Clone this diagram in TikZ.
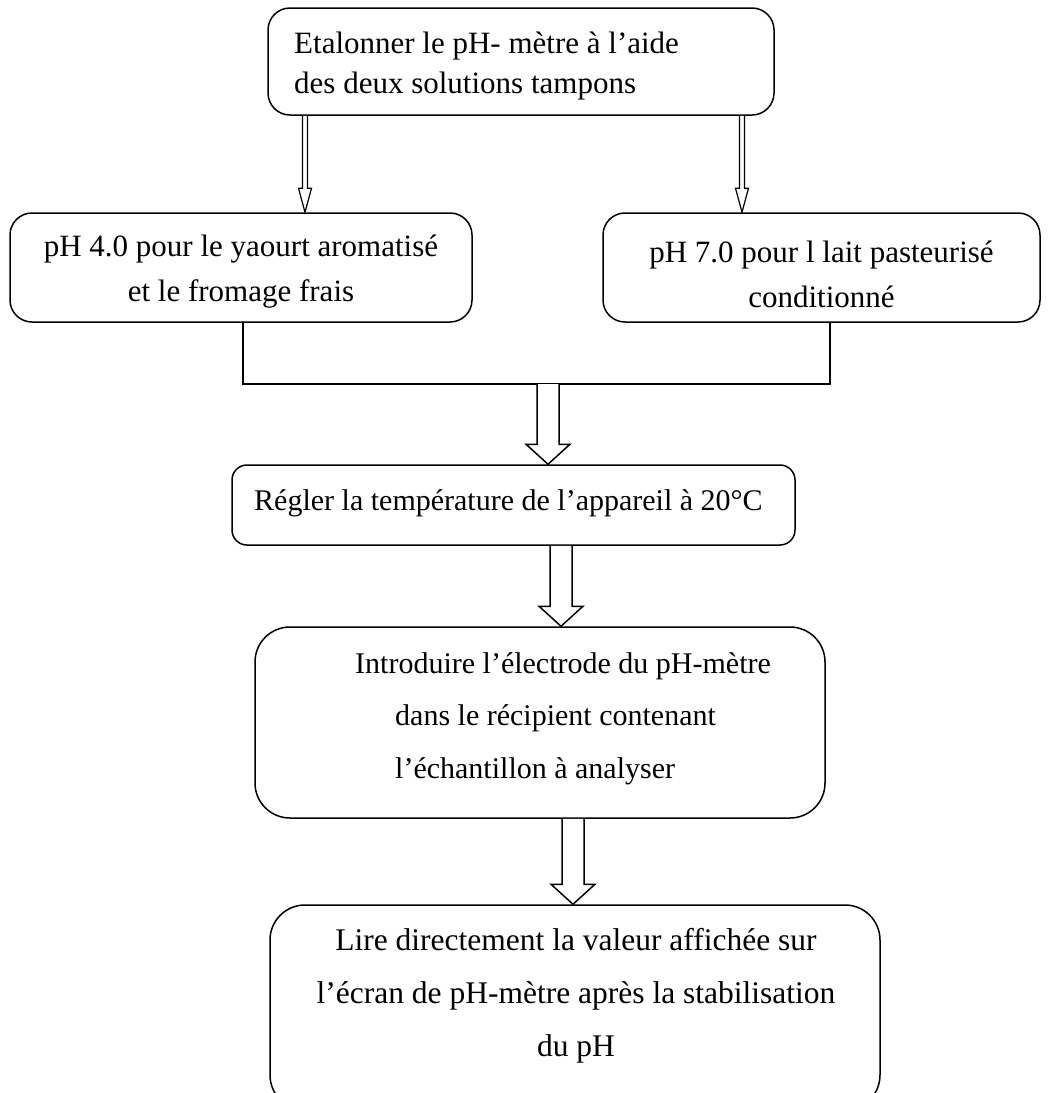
\documentclass[tikz,border=0pt]{standalone}
\usepackage{fontspec}
\setmainfont{Liberation Serif}
\usetikzlibrary{calc}

% hollow downward arrow: start, end, half shaft width, half head width, head length
\newcommand\openarrow[6][]{%
  \draw[link,fill=white,#1] let \p1=(#2), \p2=(#3) in
    ({\x1-#4},{\y1}) -- ({\x1-#4},{\y2+#6}) -- ({\x1-#5},{\y2+#6})
    -- ({\x1},{\y2}) -- ({\x1+#5},{\y2+#6}) -- ({\x1+#4},{\y2+#6})
    -- ({\x1+#4},{\y1});}

\begin{document}
\begin{tikzpicture}[x=1pt,y=-1pt,
  box/.style={draw,line width=1.5pt,rounded corners=#1,inner sep=0pt},
  box/.default=22pt,
  link/.style={line width=1.5pt,line join=miter},
  thinlink/.style={line width=1.2pt,line join=miter},
  txt/.style={inner sep=0pt,align=center,font=\fontsize{31}{45}\selectfont},
  txtwide/.style={inner sep=0pt,align=center,font=\fontsize{31.5}{53}\selectfont}]

\useasboundingbox (0,0) rectangle (1051,1093);

% boxes
\node[box,minimum width=506pt,minimum height=107pt] (calib) at (521,61.5) {};
\node[box,minimum width=462pt,minimum height=109pt] (phfour) at (241,267.5) {};
\node[box,minimum width=437pt,minimum height=109pt] (phseven) at (821.5,267.5) {};
\node[box=15pt,minimum width=563pt,minimum height=80pt] (regler) at (513.5,505) {};
\node[box=35pt,minimum width=570pt,minimum height=191pt] (intro) at (540,722.5) {};
\node[box=35pt,minimum width=610pt,minimum height=205pt] (lire) at (575,1007.5) {};

% texts
\node[inner sep=0pt,align=left,anchor=west,font=\fontsize{31}{40}\selectfont] (calibtext) at (294,66)
  {Etalonner le pH- mètre à l’aide\\des deux solutions tampons};
\node[txt] (phfourtext) at (241,272) {pH 4.0 pour le yaourt aromatisé\\et le fromage frais};
\node[txt] (phseventext) at (821.5,274) {pH 7.0 pour l lait pasteurisé\\conditionné};
\node[inner sep=0pt,anchor=west,font=\fontsize{30}{36}\selectfont] (reglertext) at (254,503) {Régler la température de l’appareil à 20°C};
\node[inner sep=0pt,align=left,anchor=north west,font=\fontsize{30}{52.5}\selectfont] (introtext) at (355,652)
  {Introduire l’électrode du pH-mètre\\\hspace*{40pt}dans le récipient contenant\\\hspace*{40pt}l’échantillon à analyser};
\node[txtwide] (liretext) at (576,996) {Lire directement la valeur affichée sur\\l’écran de pH-mètre après la stabilisation\\du pH};

% thin arrows from the calibration step
\coordinate (la) at (305,0);
\coordinate (ra) at (742,0);
\openarrow[thinlink]{la |- calib.south}{la |- phfour.north}{2.5pt}{6.5pt}{24pt}
\openarrow[thinlink]{ra |- calib.south}{ra |- phseven.north}{2.5pt}{6.5pt}{24pt}

% bracket joining both buffer boxes
\coordinate (bl) at (243,384);
\coordinate (br) at (830,384);
\draw[link] (bl |- phfour.south) -- (bl) -- (br) -- (br |- phseven.south);

% block arrows
\coordinate (ma) at (548,384);
\coordinate (mb) at (561,0);
\coordinate (mc) at (573,0);
\openarrow{ma}{ma |- regler.north}{11pt}{22pt}{20pt}
\openarrow{mb |- regler.south}{mb |- intro.north}{11pt}{22pt}{20pt}
\openarrow{mc |- intro.south}{mc |- lire.north}{11pt}{22pt}{20pt}
\end{tikzpicture}
\end{document}
